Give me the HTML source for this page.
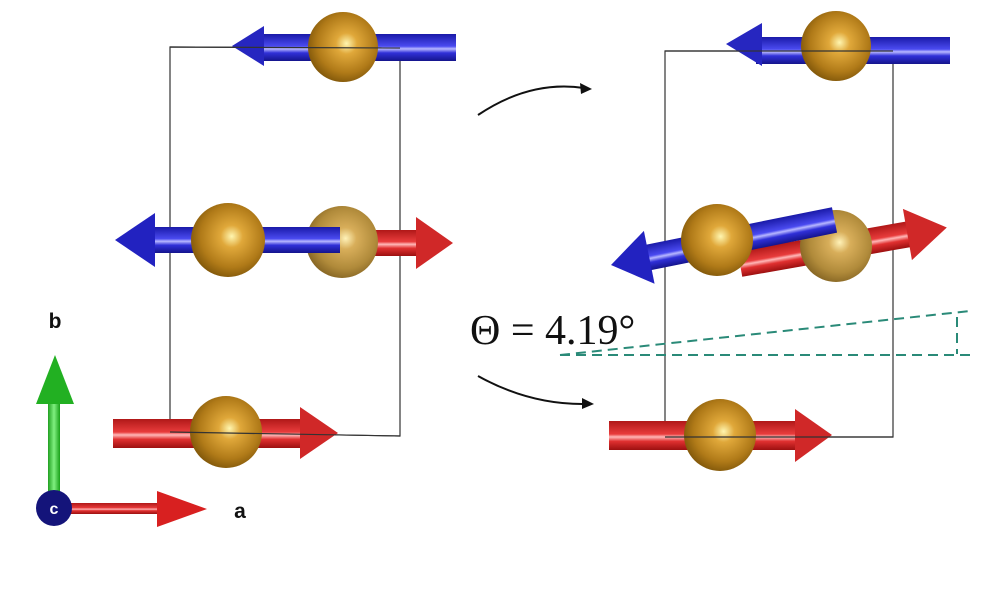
<!DOCTYPE html>
<html><head><meta charset="utf-8"><style>
html,body{margin:0;padding:0;background:#fff;width:1000px;height:608px;overflow:hidden}
</style></head><body>
<svg width="1000" height="608" viewBox="0 0 1000 608" xmlns="http://www.w3.org/2000/svg">
<defs>
<radialGradient id="ball" cx="0.55" cy="0.45" r="0.6">
<stop offset="0" stop-color="#fff6b0"/><stop offset="0.25" stop-color="#e0a83a"/><stop offset="0.7" stop-color="#b07a18"/><stop offset="1" stop-color="#7a5208"/></radialGradient>
<radialGradient id="ball2" cx="0.55" cy="0.45" r="0.6">
<stop offset="0" stop-color="#fff2b8"/><stop offset="0.25" stop-color="#d8ae5a"/><stop offset="0.7" stop-color="#b08a3a"/><stop offset="1" stop-color="#806020"/></radialGradient>
<linearGradient id="blueg" x1="0" y1="0" x2="0" y2="1">
<stop offset="0" stop-color="#1a1aa8"/><stop offset="0.45" stop-color="#4a4af0"/><stop offset="0.55" stop-color="#b8b8ff"/><stop offset="0.7" stop-color="#3030d8"/><stop offset="1" stop-color="#14148c"/></linearGradient>
<linearGradient id="redg" x1="0" y1="0" x2="0" y2="1">
<stop offset="0" stop-color="#b01818"/><stop offset="0.45" stop-color="#e83c3c"/><stop offset="0.55" stop-color="#ffb8b8"/><stop offset="0.7" stop-color="#e03030"/><stop offset="1" stop-color="#9c1010"/></linearGradient>
<linearGradient id="greeng" x1="0" y1="0" x2="1" y2="0">
<stop offset="0" stop-color="#20a020"/><stop offset="0.5" stop-color="#80f080"/><stop offset="1" stop-color="#18a018"/></linearGradient>
</defs>

<g stroke="#333" stroke-width="1.2" fill="none">
<path d="M170 47 L400 48 L400 436 L170 432 Z"/>
<path d="M665 51 L893 51 L893 437 L665 437 Z"/>
</g>

<!-- left top -->
<rect x="262" y="34" width="194" height="27" fill="url(#blueg)"/>
<polygon points="232,46 264,26 264,66" fill="#2626c0"/>
<circle cx="343" cy="47" r="35" fill="url(#ball)"/>
<line x1="170" y1="47" x2="400" y2="48" stroke="#333" stroke-width="1.2"/>

<!-- left middle -->
<rect x="340" y="230" width="78" height="26" fill="url(#redg)"/>
<polygon points="453,243 416,217 416,269" fill="#d02828"/>
<circle cx="342" cy="242" r="36" fill="url(#ball2)"/>
<rect x="152" y="227" width="188" height="26" fill="url(#blueg)"/>
<polygon points="115,240 155,213 155,267" fill="#2222c0"/>
<circle cx="228" cy="240" r="37" fill="url(#ball)"/>

<!-- left bottom -->
<rect x="113" y="419" width="190" height="29" fill="url(#redg)"/>
<polygon points="338,433 300,407 300,459" fill="#d02828"/>
<circle cx="226" cy="432" r="36" fill="url(#ball)"/>
<line x1="170" y1="432" x2="400" y2="436" stroke="#333" stroke-width="1.2"/>

<!-- right top -->
<rect x="756" y="37" width="194" height="27" fill="url(#blueg)"/>
<polygon points="726,44 762,23 762,66" fill="#2626c0"/>
<circle cx="836" cy="46" r="35" fill="url(#ball)"/>
<line x1="665" y1="51" x2="893" y2="51" stroke="#333" stroke-width="1.2"/>

<!-- right middle tilted -->
<g transform="rotate(-10 740 264)">
<rect x="740" y="251" width="174" height="26" fill="url(#redg)"/>
<polygon points="950,264 910,238 910,290" fill="#d02828"/>
</g>
<circle cx="836" cy="246" r="36" fill="url(#ball2)"/>
<g transform="rotate(-11.4 611 265)">
<rect x="648" y="252" width="191" height="26" fill="url(#blueg)"/>
<polygon points="611,265 650,238 650,292" fill="#2222c0"/>
</g>
<circle cx="717" cy="240" r="36" fill="url(#ball)"/>

<!-- right bottom -->
<rect x="609" y="421" width="190" height="29" fill="url(#redg)"/>
<polygon points="832,435 795,409 795,462" fill="#d02828"/>
<circle cx="720" cy="435" r="36" fill="url(#ball)"/>
<line x1="665" y1="437" x2="893" y2="437" stroke="#333" stroke-width="1.2"/>

<!-- dashed angle -->
<g stroke="#2a8a78" stroke-width="2" stroke-dasharray="10,6" fill="none">
<line x1="560" y1="355" x2="975" y2="355"/>
<line x1="560" y1="355" x2="970" y2="311"/>
<line x1="957" y1="317" x2="957" y2="354"/>
</g>
<text x="470" y="344" font-family="Liberation Serif, serif" font-size="42" fill="#111">Θ = 4.19°</text>

<!-- curved arrows -->
<g stroke="#111" stroke-width="2" fill="none">
<path d="M478 115 Q530 80 584 88"/>
<path d="M478 376 Q530 405 586 404"/>
</g>
<polygon points="592,89 580,83 581,94" fill="#111"/>
<polygon points="594,404 582,398 582,409" fill="#111"/>

<!-- axes -->
<rect x="48" y="400" width="12" height="105" fill="url(#greeng)"/>
<polygon points="55,355 36,404 74,404" fill="#22b022"/>
<rect x="70" y="503" width="90" height="11" fill="url(#redg)"/>
<polygon points="207,509 157,491 157,527" fill="#d82020"/>
<circle cx="54" cy="508" r="18" fill="#14147a"/>
<text x="54" y="514" font-family="Liberation Sans, sans-serif" font-size="16" font-weight="bold" fill="#fff" text-anchor="middle">c</text>
<text x="55" y="328" font-family="Liberation Sans, sans-serif" font-size="21" font-weight="bold" fill="#111" text-anchor="middle">b</text>
<text x="240" y="518" font-family="Liberation Sans, sans-serif" font-size="21" font-weight="bold" fill="#111" text-anchor="middle">a</text>
</svg>
</body></html>
